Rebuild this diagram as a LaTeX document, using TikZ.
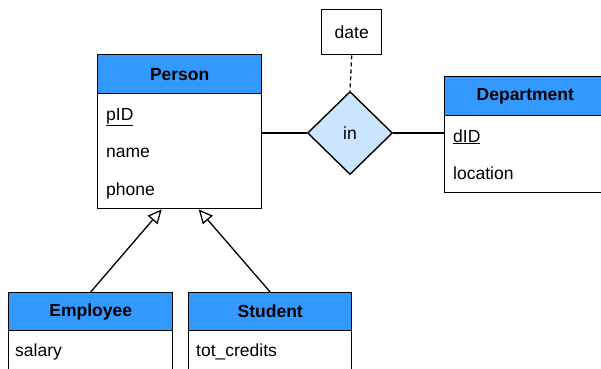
\documentclass[tikz,border=0pt]{standalone}
\usepackage{fontspec}
\setmainfont{Liberation Sans}
\usetikzlibrary{shapes.geometric,arrows.meta,calc}
\definecolor{headblue}{RGB}{51,153,255}
\definecolor{relblue}{RGB}{204,229,255}
\begin{document}
\begin{tikzpicture}[x=1pt,y=-1pt,
  every node/.style={font=\fontsize{17.5}{20}\selectfont},
  entbox/.style={draw=black,line width=1.4pt,fill=white,rectangle,inner sep=0pt,anchor=north west},
  headbox/.style={draw=black,line width=1.4pt,fill=headblue,rectangle,inner sep=0pt,anchor=north west,font=\fontsize{17.5}{20}\selectfont\bfseries},
  attr/.style={anchor=base west,inner sep=0pt},
  rel/.style={draw=black,line width=1.4pt,fill=relblue,shape=diamond,inner sep=0pt,minimum width=85pt,minimum height=83pt},
  link/.style={draw=black,line width=1.3pt},
  isa/.style={link,-{Triangle[open,length=14pt,width=13pt,line width=1.3pt]}}
]
\useasboundingbox (0,0) rectangle (601,368);
\clip (0,0) rectangle (601,368);

% Person entity
\node[entbox,minimum width=164pt,minimum height=154pt] (person) at (97,54) {};
\node[headbox,minimum width=164pt,minimum height=39pt] (personh) at (97,54) {Person};
\node[attr] (pid) at (106,120) {\underline{pID}};
\node[attr] (pname) at (106,157.5) {name};
\node[attr] (pphone) at (106,195) {phone};

% Department entity (runs past the right edge)
\node[entbox,minimum width=180pt,minimum height=116pt] (dept) at (444,76) {};
\node[headbox,minimum width=180pt,minimum height=39pt,text width=164pt,align=left] (depth) at (444,76) {\hspace*{24pt}Department};
\node[attr] (did) at (453,142) {\underline{dID}};
\node[attr] (dloc) at (453,179) {location};

% Employee entity
\node[entbox,minimum width=164pt,minimum height=100pt] (emp) at (8,292) {};
\node[headbox,minimum width=164pt,minimum height=38pt] (emph) at (8,292) {Employee};
\node[attr] (esal) at (15,356) {salary};

% Student entity
\node[entbox,minimum width=163pt,minimum height=100pt] (stu) at (188,292) {};
\node[headbox,minimum width=163pt,minimum height=38pt] (stuh) at (188,292) {Student};
\node[attr] (scred) at (196,356) {tot\_credits};

% Relationship and its attribute
\node[rel] (in) at (350,133) {in};
\node[entbox,minimum width=60pt,minimum height=45pt] (date) at (321,9) {date};

% Connectors
\draw[link] (in.west -| person.east) -- (in.west);
\draw[link] (in.east) -- (in.east -| dept.west);
\draw[link,dashed,dash pattern=on 4pt off 3pt] (date.south) -- (in.north);

\coordinate (tipE) at ($(person.south)+(-18,0)$);
\coordinate (tipS) at ($(person.south)+(19,0)$);
\draw[isa] (emph.north) -- (tipE);
\draw[isa] (stuh.north) -- (tipS);
\end{tikzpicture}
\end{document}
